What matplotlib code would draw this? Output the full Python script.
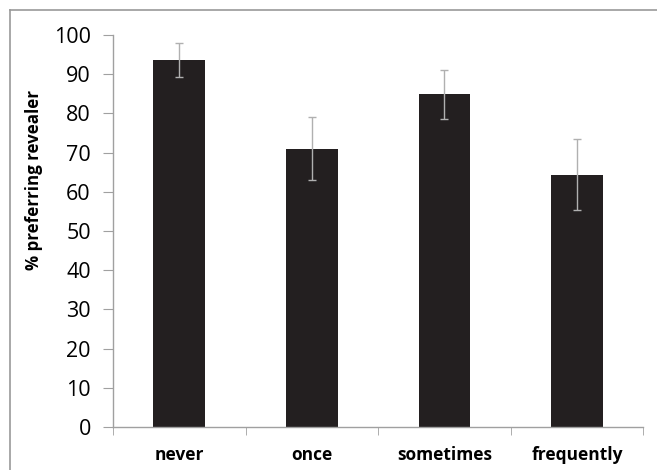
import matplotlib
matplotlib.use('Agg')
import matplotlib.pyplot as plt
from matplotlib.lines import Line2D

categories = ['never', 'once', 'sometimes', 'frequently']
values = [93.5, 71.0, 85.0, 64.3]
err_low = [89.2, 63.0, 78.6, 55.4]
err_high = [98.0, 79.2, 91.2, 73.5]
yticks = [0, 10, 20, 30, 40, 50, 60, 70, 80, 90, 100]

plt.rcParams['font.family'] = ['Open Sans', 'DejaVu Sans']

fig = plt.figure(figsize=(6.57, 4.70), dpi=100)
ax = fig.add_axes([0.172, 0.0915, 0.807, 0.834])

x = list(range(len(categories)))
yerr = [[v - lo for v, lo in zip(values, err_low)],
        [hi - v for v, hi in zip(values, err_high)]]
ax.bar(x, values, width=0.39, color='#231f20', zorder=2)
ax.errorbar(x, values, yerr=yerr, fmt='none', ecolor='#b0b0b0',
            elinewidth=1, capsize=3, capthick=1, zorder=3)

ax.set_xlim(-0.5, len(categories) - 0.5)
ax.set_ylim(0, 100)
ax.set_yticks(yticks)
ax.set_yticklabels([str(t) for t in yticks], fontsize=15.5)
ax.set_xticks(x)
ax.set_xticklabels(categories, fontsize=12.5, fontweight='bold')
ax.tick_params(axis='x', length=0, pad=14)
ax.set_xticks([i - 0.5 for i in range(len(categories) + 1)], minor=True)
ax.tick_params(axis='x', which='minor', length=6, color='#a0a0a0', direction='out')
ax.tick_params(axis='y', length=7, color='#a0a0a0', direction='out', pad=9)
ax.set_ylabel('% preferring revealer', fontsize=12.2, fontweight='bold')
ax.yaxis.set_label_coords(-0.132, 0.63)

for s in ['top', 'right']:
    ax.spines[s].set_visible(False)
for s in ['left', 'bottom']:
    ax.spines[s].set_color('#a0a0a0')
    ax.spines[s].set_linewidth(1)

# outer frame (top and left edges visible)
fig.add_artist(Line2D([10/657, 1], [1 - 10/470, 1 - 10/470], color='#999999', lw=1.2,
                      transform=fig.transFigure))
fig.add_artist(Line2D([10/657, 10/657], [0, 1 - 10/470], color='#999999', lw=1.2,
                      transform=fig.transFigure))

fig.savefig('out.png', dpi=100)
